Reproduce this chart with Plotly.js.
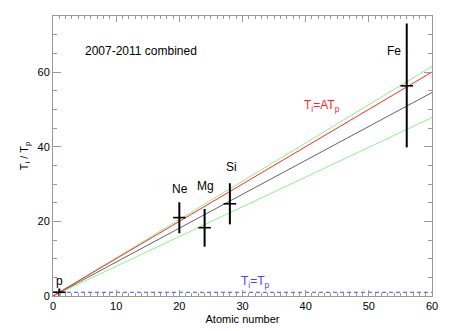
<!DOCTYPE html>
<html>
<head>
<meta charset="utf-8">
<script src="https://cdn.plot.ly/plotly-3.0.1.min.js"></script>
<style>html,body{margin:0;padding:0;background:#fff;}#chart{width:449px;height:331px;}</style>
</head>
<body>
<div id="chart"></div>
<script>
// Ion species (mass number on x), temperature ratio Ti/Tp with error bars
var species = ["p", "Ne", "Mg", "Si", "Fe"];
var atomicX = [1, 20, 24, 28, 56];
var ratioY = [1, 21.0, 18.3, 24.7, 56.3];
var errPlus = [1, 4.1, 5.0, 5.5, 16.7];
var errMinus = [1, 4.2, 5.1, 5.5, 16.5];

// Fit lines (endpoints)
var lineX = [0, 60];
var redY = [0, 60];          // Ti = A Tp
var grayY = [0, 54.5];       // best fit
var greenUpperY = [0, 61.5]; // upper bound
var greenLowerY = [0, 47.8]; // lower bound
var equalY = [1, 1];         // Ti = Tp

// Label positions (data coords)
var labelX = [1.0, 20.1, 24.2, 28.2, 54.0];
var labelY = [3.9, 28.7, 29.5, 34.6, 65.6];

var font = "Liberation Sans, Arial, Helvetica, sans-serif";

var traces = [
  {x: lineX, y: greenUpperY, mode: "lines", line: {color: "rgb(140,240,140)", width: 1}, hoverinfo: "skip"},
  {x: lineX, y: greenLowerY, mode: "lines", line: {color: "rgb(140,240,140)", width: 1}, hoverinfo: "skip"},
  {x: lineX, y: grayY, mode: "lines", line: {color: "rgb(100,100,100)", width: 1}, hoverinfo: "skip"},
  {x: lineX, y: redY, mode: "lines", line: {color: "rgb(255,40,40)", width: 1}, hoverinfo: "skip"},
  {x: lineX, y: equalY, mode: "lines", line: {color: "rgb(70,70,255)", width: 1, dash: "4px,3px"}, hoverinfo: "skip"},
  {x: atomicX, y: ratioY, mode: "markers", text: species,
   marker: {symbol: "line-ew", size: 9, color: "black", line: {color: "black", width: 1.6}},
   error_y: {type: "data", symmetric: false, array: errPlus, arrayminus: errMinus, color: "black", thickness: 2, width: 0}}
];

var annotations = [];
for (var i = 0; i < species.length; i++) {
  annotations.push({x: labelX[i], y: labelY[i], xref: "x", yref: "y", text: species[i], showarrow: false,
    font: {family: font, size: 12, color: "black"}});
}
annotations.push({x: 13.9, y: 65.6, xref: "x", yref: "y", text: "2007-2011 combined", showarrow: false,
  font: {family: font, size: 12, color: "black"}});
annotations.push({x: 42.6, y: 50.9, xref: "x", yref: "y", text: "T<sub>i</sub>=AT<sub>p</sub>", showarrow: false,
  font: {family: font, size: 12, color: "rgb(255,40,40)"}});
annotations.push({x: 32.1, y: 3.7, xref: "x", yref: "y", text: "T<sub>i</sub>=T<sub>p</sub>", showarrow: false,
  font: {family: font, size: 12, color: "rgb(70,70,255)"}});

var layout = {
  width: 449, height: 331,
  margin: {l: 53, r: 17, t: 16, b: 35, pad: 0},
  paper_bgcolor: "white", plot_bgcolor: "white",
  showlegend: false,
  font: {family: font, size: 11, color: "black"},
  xaxis: {
    range: [0, 60], tickmode: "linear", tick0: 0, dtick: 10,
    ticks: "inside", ticklen: 5.6, tickcolor: "#999", tickwidth: 1,
    showline: true, linecolor: "#999", linewidth: 1, mirror: "ticks",
    showgrid: false, zeroline: false,
    minor: {dtick: 1, ticks: "inside", ticklen: 2.8, tickcolor: "#999", showgrid: false},
    tickfont: {family: font, size: 11, color: "black"},
    title: {text: "Atomic number", font: {family: font, size: 11, color: "black"}, standoff: 4}
  },
  yaxis: {
    range: [0, 75], tickmode: "linear", tick0: 0, dtick: 20,
    ticks: "inside", ticklen: 7.6, tickcolor: "#999", tickwidth: 1,
    showline: true, linecolor: "#999", linewidth: 1, mirror: "ticks",
    showgrid: false, zeroline: false,
    minor: {dtick: 5, ticks: "inside", ticklen: 3.8, tickcolor: "#999", showgrid: false},
    tickfont: {family: font, size: 11, color: "black"},
    title: {text: "T<sub>i</sub> / T<sub>p</sub>", font: {family: font, size: 11, color: "black"}, standoff: 6}
  },
  annotations: annotations
};

Plotly.newPlot("chart", traces, layout, {staticPlot: true, displayModeBar: false});
</script>
</body>
</html>
